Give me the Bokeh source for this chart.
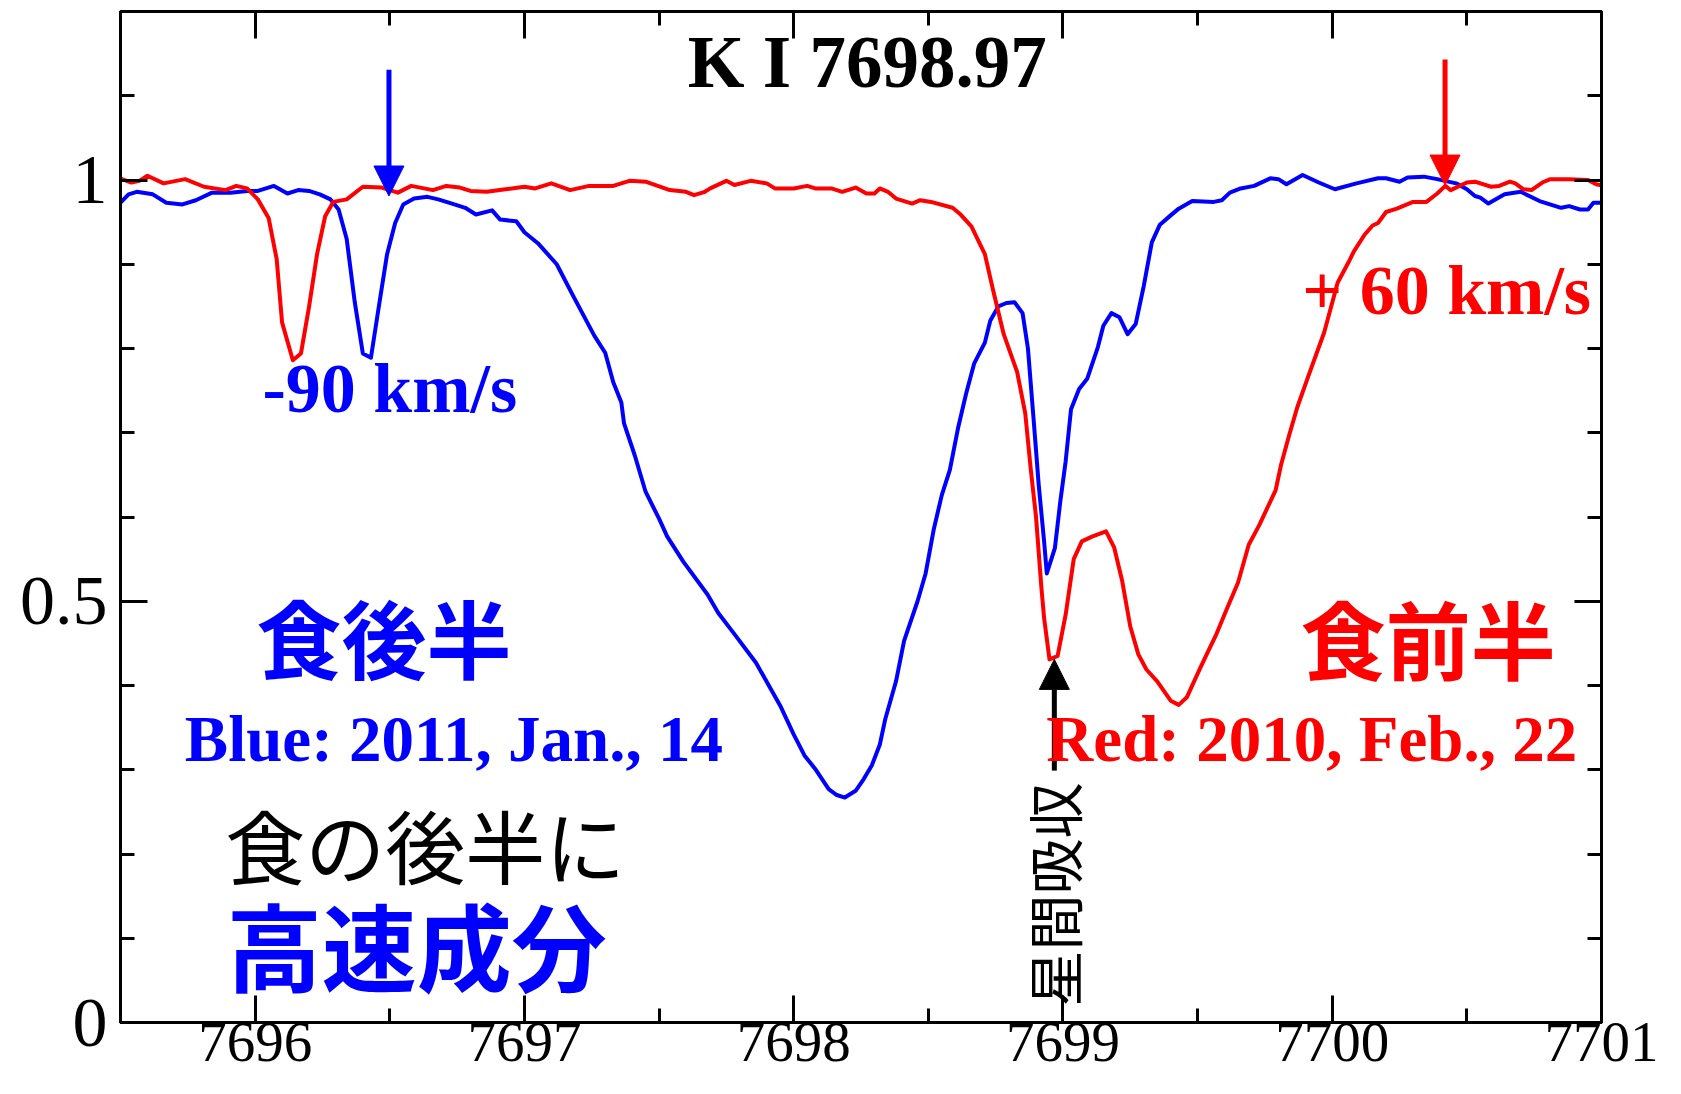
import numpy as np
from bokeh.plotting import figure
from bokeh.models import (Range1d, LinearAxis, SingleIntervalTicker, Arrow,
                          NormalHead, Label, CustomLabelingPolicy)
from bokeh.embed import file_html
from bokeh.resources import INLINE

# ---------------- data ----------------
blue_wl = [7695.49, 7695.53, 7695.56, 7695.62, 7695.67, 7695.73, 7695.78, 7695.84,
           7695.91, 7695.97, 7696.01, 7696.07, 7696.12, 7696.16, 7696.20, 7696.24,
           7696.28, 7696.31, 7696.34, 7696.37, 7696.40, 7696.43, 7696.46, 7696.49,
           7696.52, 7696.55, 7696.59, 7696.64, 7696.68, 7696.74, 7696.78, 7696.82,
           7696.88, 7696.91, 7696.97, 7697.00, 7697.05, 7697.12, 7697.18, 7697.22,
           7697.26, 7697.30, 7697.33, 7697.36, 7697.37, 7697.41, 7697.45, 7697.50,
           7697.53, 7697.59, 7697.68, 7697.72, 7697.78, 7697.86, 7697.95, 7698.00,
           7698.04, 7698.08, 7698.13, 7698.16, 7698.19, 7698.23, 7698.26, 7698.29,
           7698.32, 7698.34, 7698.38, 7698.41, 7698.46, 7698.49, 7698.52, 7698.55,
           7698.58, 7698.61, 7698.64, 7698.67, 7698.71, 7698.73, 7698.76, 7698.79,
           7698.82, 7698.85, 7698.87, 7698.89, 7698.91, 7698.93, 7698.94, 7698.97,
           7698.99, 7699.01, 7699.03, 7699.06, 7699.09, 7699.13, 7699.15, 7699.18,
           7699.21, 7699.24, 7699.27, 7699.30, 7699.33, 7699.36, 7699.40, 7699.43,
           7699.48, 7699.56, 7699.59, 7699.62, 7699.66, 7699.71, 7699.77, 7699.80,
           7699.83, 7699.89, 7699.95, 7700.01, 7700.09, 7700.17, 7700.20, 7700.25,
           7700.28, 7700.34, 7700.39, 7700.46, 7700.50, 7700.53, 7700.55, 7700.58,
           7700.64, 7700.70, 7700.77, 7700.85, 7700.88, 7700.92, 7700.95, 7700.97,
           7701.01]
blue_flux = [0.970, 0.983, 0.986, 0.983, 0.973, 0.971, 0.976, 0.985,
             0.985, 0.987, 0.987, 0.993, 0.984, 0.988, 0.987, 0.983,
             0.977, 0.965, 0.930, 0.855, 0.794, 0.789, 0.851, 0.912,
             0.949, 0.971, 0.978, 0.980, 0.977, 0.971, 0.967, 0.959,
             0.964, 0.953, 0.951, 0.938, 0.925, 0.900, 0.863, 0.839,
             0.815, 0.795, 0.760, 0.736, 0.711, 0.673, 0.630, 0.598,
             0.577, 0.547, 0.508, 0.486, 0.461, 0.427, 0.376, 0.342,
             0.317, 0.301, 0.277, 0.270, 0.267, 0.275, 0.289, 0.305,
             0.330, 0.360, 0.405, 0.453, 0.500, 0.533, 0.585, 0.626,
             0.656, 0.705, 0.746, 0.782, 0.807, 0.833, 0.850, 0.854,
             0.855, 0.842, 0.800, 0.720, 0.638, 0.571, 0.533, 0.563,
             0.618, 0.666, 0.728, 0.752, 0.764, 0.802, 0.827, 0.842,
             0.837, 0.817, 0.829, 0.874, 0.926, 0.947, 0.958, 0.966,
             0.975, 0.974, 0.976, 0.985, 0.990, 0.993, 1.002, 1.001,
             0.995, 1.006, 0.997, 0.989, 0.996, 1.002, 1.002, 0.998,
             1.003, 1.004, 1.001, 0.996, 0.989, 0.981, 0.979, 0.972,
             0.983, 0.986, 0.975, 0.967, 0.969, 0.965, 0.965, 0.973,
             0.973]

red_wl = [7695.49, 7695.54, 7695.57, 7695.60, 7695.66, 7695.74, 7695.81, 7695.89,
          7695.93, 7695.97, 7696.01, 7696.05, 7696.08, 7696.10, 7696.14, 7696.17,
          7696.20, 7696.23, 7696.26, 7696.29, 7696.34, 7696.40, 7696.47, 7696.53,
          7696.58, 7696.66, 7696.71, 7696.76, 7696.80, 7696.86, 7696.93, 7697.00,
          7697.04, 7697.10, 7697.17, 7697.24, 7697.33, 7697.39, 7697.45, 7697.54,
          7697.60, 7697.63, 7697.67, 7697.69, 7697.75, 7697.78, 7697.84, 7697.90,
          7697.93, 7698.00, 7698.05, 7698.08, 7698.14, 7698.18, 7698.23, 7698.27,
          7698.30, 7698.32, 7698.35, 7698.38, 7698.44, 7698.47, 7698.51, 7698.59,
          7698.62, 7698.66, 7698.71, 7698.74, 7698.78, 7698.83, 7698.86, 7698.88,
          7698.90, 7698.92, 7698.93, 7698.95, 7698.98, 7699.01, 7699.04, 7699.07,
          7699.11, 7699.16, 7699.19, 7699.22, 7699.25, 7699.28, 7699.31, 7699.35,
          7699.40, 7699.43, 7699.46, 7699.51, 7699.54, 7699.57, 7699.61, 7699.65,
          7699.69, 7699.73, 7699.79, 7699.81, 7699.84, 7699.87, 7699.91, 7699.97,
          7700.02, 7700.06, 7700.08, 7700.12, 7700.15, 7700.17, 7700.20, 7700.24,
          7700.30, 7700.35, 7700.39, 7700.42, 7700.44, 7700.50, 7700.53, 7700.59,
          7700.62, 7700.66, 7700.68, 7700.71, 7700.74, 7700.78, 7700.81, 7700.88,
          7700.95, 7700.98, 7701.01]
red_flux = [1.003, 0.997, 0.999, 1.005, 0.996, 1.001, 0.992, 0.988,
            0.993, 0.990, 0.977, 0.955, 0.906, 0.831, 0.786, 0.794,
            0.849, 0.912, 0.957, 0.974, 0.977, 0.992, 0.991, 0.985,
            0.993, 0.988, 0.993, 0.991, 0.987, 0.986, 0.989, 0.992,
            0.990, 0.996, 0.988, 0.993, 0.993, 0.999, 0.998, 0.988,
            0.986, 0.982, 0.986, 0.990, 0.999, 0.994, 0.999, 0.996,
            0.990, 0.990, 0.993, 0.990, 0.990, 0.986, 0.991, 0.984,
            0.984, 0.990, 0.986, 0.978, 0.972, 0.976, 0.974, 0.967,
            0.959, 0.945, 0.912, 0.870, 0.817, 0.772, 0.723, 0.658,
            0.600, 0.516, 0.480, 0.431, 0.435, 0.484, 0.550, 0.571,
            0.577, 0.583, 0.564, 0.524, 0.470, 0.437, 0.419, 0.405,
            0.382, 0.377, 0.386, 0.421, 0.441, 0.461, 0.492, 0.522,
            0.567, 0.591, 0.632, 0.662, 0.697, 0.730, 0.766, 0.819,
            0.878, 0.902, 0.915, 0.935, 0.946, 0.949, 0.962, 0.966,
            0.974, 0.974, 0.984, 0.993, 0.988, 0.997, 0.998, 0.992,
            0.993, 0.998, 0.996, 0.989, 0.988, 0.997, 1.001, 1.001,
            1.000, 0.995, 0.993]

x_tick_values = [7696, 7697, 7698, 7699, 7700, 7701]
x_tick_labels = ["7696", "7697", "7698", "7699", "7700", "7701"]
y_tick_values = [0, 0.5, 1]
y_tick_labels = ["0", "0.5", "1"]

# arrows: x, y_start, y_end, colour
arrow_x = [7696.497, 7700.419, 7698.968]
arrow_y_start = [1.131, 1.143, 0.299]
arrow_y_end = [0.981, 0.994, 0.431]
arrow_color = ["#0000ff", "#ff0000", "#000000"]

BLUE = "#0000ff"
RED = "#ff0000"
SERIF = "Liberation Serif"
CJK = "Noto Sans CJK JP"

p = figure(width=1673, height=1086,
           x_range=Range1d(7695.5, 7701), y_range=Range1d(0, 1.2),
           output_backend="svg", toolbar_location=None,
           x_axis_location=None, y_axis_location=None,
           min_border_left=120, min_border_right=72,
           min_border_top=8, min_border_bottom=64)
p.grid.visible = False
p.outline_line_color = "black"
p.outline_line_width = 3
p.background_fill_color = "white"
p.border_fill_color = "white"

def make_axis(ticker, labels, show_labels, font_size="70px"):
    ax = LinearAxis(ticker=ticker)
    ax.axis_line_width = 3
    ax.major_tick_line_width = 3
    ax.minor_tick_line_width = 3
    ax.major_tick_in = 27
    ax.major_tick_out = 0
    ax.minor_tick_in = 14
    ax.minor_tick_out = 0
    if show_labels:
        ax.major_label_overrides = labels
        ax.major_label_text_font = SERIF
        ax.major_label_text_font_size = font_size
        ax.major_label_text_color = "black"
    else:
        ax.major_label_policy = CustomLabelingPolicy(code="return []")
        ax.major_label_standoff = 0
    return ax

x_labels = dict(zip(x_tick_values, x_tick_labels))
y_labels = dict(zip(y_tick_values, y_tick_labels))

xb = make_axis(SingleIntervalTicker(interval=1, num_minor_ticks=2), x_labels, True, "57px")
xb.major_label_standoff = 0
p.add_layout(xb, "below")
xt = make_axis(SingleIntervalTicker(interval=1, num_minor_ticks=2), x_labels, False)
p.add_layout(xt, "above")
yl = make_axis(SingleIntervalTicker(interval=0.5, num_minor_ticks=5), y_labels, True, "70px")
yl.major_label_standoff = 13
p.add_layout(yl, "left")
yr = make_axis(SingleIntervalTicker(interval=0.5, num_minor_ticks=5), y_labels, False)
p.add_layout(yr, "right")

p.line(blue_wl, blue_flux, line_color=BLUE, line_width=4, line_join="round")
p.line(red_wl, red_flux, line_color=RED, line_width=4, line_join="round")

for xa, ys, ye, c in zip(arrow_x, arrow_y_start, arrow_y_end, arrow_color):
    p.add_layout(Arrow(x_start=xa, y_start=ys, x_end=xa, y_end=ye,
                       line_color=c, line_width=5,
                       end=NormalHead(size=30, fill_color=c, line_color=c, line_width=1)))

def label(x, y, text, color, font, size, bold=False, angle=0.0):
    p.add_layout(Label(x=x, y=y, text=text, text_color=color, text_font=font,
                       text_font_size=size, text_font_style="bold" if bold else "normal",
                       text_align="center", text_baseline="alphabetic", angle=angle))

label(7698.273, 1.140, "K I 7698.97", "black", SERIF, "73px", True)
label(7696.500, 0.752, "-90 km/s", BLUE, SERIF, "70px", True)
label(7700.425, 0.869, "+ 60 km/s", RED, SERIF, "70px", True)
label(7696.479, 0.459, "食後半", BLUE, CJK, "85px", True)
label(7700.357, 0.458, "食前半", RED, CJK, "85px", True)
label(7696.738, 0.336, "Blue: 2011, Jan., 14", BLUE, SERIF, "65px", True)
label(7699.924, 0.336, "Red: 2010, Feb., 22", RED, SERIF, "65px", True)
label(7696.632, 0.213, "食の後半に", "black", CJK, "80px", False)
label(7696.600, 0.094, "高速成分", BLUE, CJK, "95px", True)
label(7698.961, 0.152, "星間吸収", "black", CJK, "56px", False, angle=np.pi / 2)

open("out.html", "w").write(file_html(p, INLINE))
